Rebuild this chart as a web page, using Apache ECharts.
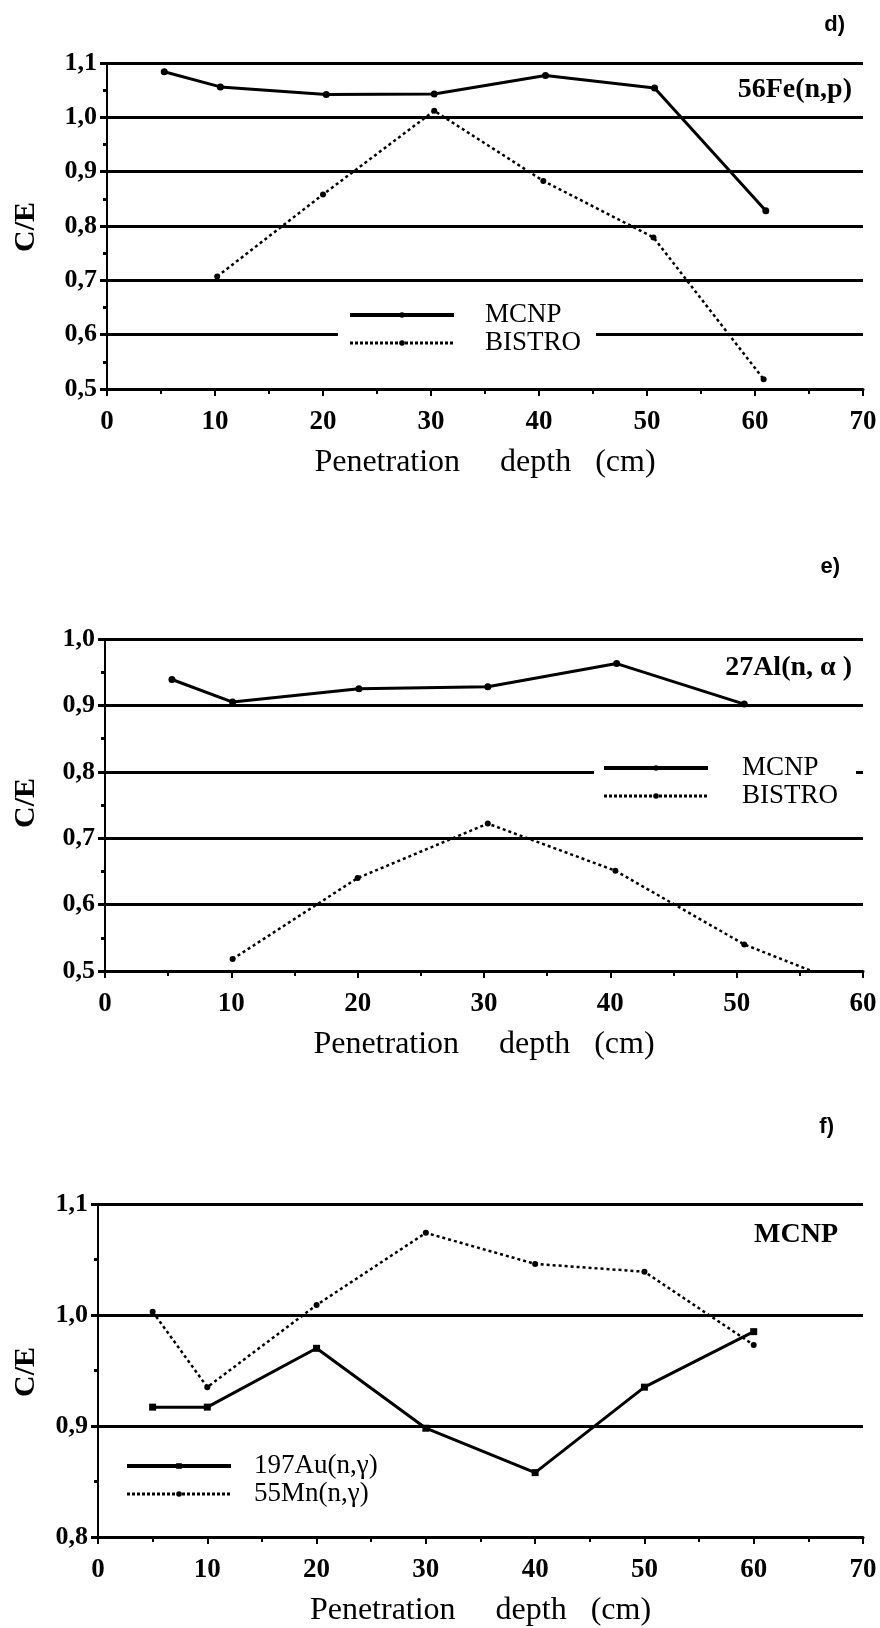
<!DOCTYPE html>
<html>
<head>
<meta charset="utf-8">
<script src="https://cdn.jsdelivr.net/npm/echarts@6/dist/echarts.min.js"></script>
<style>
html,body{margin:0;padding:0;background:#fff;}
#chart{width:880px;height:1628px;}
</style>
</head>
<body>
<div id="chart"></div>
<script>
// ---- Panel d) 56Fe(n,p) ----
const dDepthMCNP = [5.3, 10.5, 20.3, 30.3, 40.6, 50.7, 61.0];
const dMCNP = [1.084, 1.056, 1.042, 1.043, 1.077, 1.054, 0.828];
const dDepthBISTRO = [10.2, 20.0, 30.3, 40.4, 50.6, 60.8];
const dBISTRO = [0.707, 0.858, 1.012, 0.883, 0.779, 0.518];

// ---- Panel e) 27Al(n,α) ----
const eDepthMCNP = [5.3, 10.1, 20.1, 30.3, 40.5, 50.6];
const eMCNP = [0.939, 0.905, 0.925, 0.928, 0.963, 0.902];
const eDepthBISTRO = [10.1, 20.0, 30.3, 40.4, 50.6, 60.6];
const eBISTRO = [0.518, 0.640, 0.722, 0.651, 0.540, 0.465];

// ---- Panel f) MCNP ----
const fDepth = [5, 10, 20, 30, 40, 50, 60];
const fAu = [0.917, 0.917, 0.970, 0.898, 0.858, 0.935, 0.985];
const fMn = [1.003, 0.935, 1.009, 1.074, 1.046, 1.039, 0.973];

const panelLabels = ['d)', 'e)', 'f)'];
const reactionLabels = ['56Fe(n,p)', '27Al(n, α )', 'MCNP'];
const xTitle = 'Penetration     depth   (cm)';
const yTitle = 'C/E';

const pair = (xs, ys) => xs.map((x, i) => [x, ys[i]]);
const serif = 'Liberation Serif';

function xAxis(gi, max) {
  return {
    type: 'value', gridIndex: gi, min: 0, max: max, interval: 10,
    name: xTitle, nameLocation: 'middle', nameGap: 58,
    nameTextStyle: {fontFamily: serif, fontSize: 32, color: '#000'},
    axisLine: {show: true, onZero: false, lineStyle: {color: '#000', width: 3}},
    axisTick: {show: true, length: 7, lineStyle: {color: '#000', width: 2}},
    minorTick: {show: true, splitNumber: 2, length: 5, lineStyle: {color: '#000', width: 2}},
    axisLabel: {fontFamily: serif, fontWeight: 'bold', fontSize: 27, color: '#000', margin: 20},
    splitLine: {show: false}
  };
}
function yAxis(gi, min, max) {
  return {
    type: 'value', gridIndex: gi, min: min, max: max, interval: 0.1,
    axisLine: {show: true, lineStyle: {color: '#000', width: 2}},
    axisTick: {show: true, length: 7, lineStyle: {color: '#000', width: 3}},
    minorTick: {show: true, splitNumber: 2, length: 4, lineStyle: {color: '#000', width: 3}},
    axisLabel: {fontFamily: serif, fontWeight: 'bold', fontSize: 26, color: '#000', margin: 10,
      formatter: v => v.toFixed(1).replace('.', ',')},
    splitLine: {show: true, lineStyle: {color: '#000', width: 3}}
  };
}
function solid(name, gi, data, sym) {
  return {
    type: 'line', name: name, xAxisIndex: gi, yAxisIndex: gi, data: data,
    symbol: sym || 'circle', symbolSize: 7, clip: true,
    itemStyle: {color: '#000'},
    lineStyle: {color: '#000', width: 3, type: 'solid'},
    z: 5
  };
}
function dotted(name, gi, data) {
  return {
    type: 'line', name: name, xAxisIndex: gi, yAxisIndex: gi, data: data,
    symbol: 'circle', symbolSize: 6, clip: true,
    itemStyle: {color: '#000'},
    lineStyle: {color: '#000', width: 2.5, type: [3, 3]},
    z: 5
  };
}
function legend(names, left, top, textPad, pad, bg) {
  return {
    data: [
      {name: names[0], lineStyle: {width: 4, type: 'solid', color: '#000'}},
      {name: names[1], lineStyle: {width: 3, type: [3, 2], color: '#000'}}
    ],
    orient: 'vertical', left: left, top: top,
    itemWidth: 104, itemHeight: 7, itemGap: 0,
    backgroundColor: bg ? '#fff' : 'transparent',
    padding: pad, selectedMode: false, z: 10,
    textStyle: {fontFamily: serif, fontSize: 27, lineHeight: 28, color: '#000', padding: [0, 0, 0, textPad]}
  };
}
function txt(text, x, y, opts) {
  return {
    type: 'text', x: x, y: y, z: 20,
    style: Object.assign({text: text, fill: '#000', fontFamily: serif, fontWeight: 'bold', fontSize: 28,
      align: 'right', verticalAlign: 'middle'}, opts || {})
  };
}
function ytitle(x, y) {
  return {
    type: 'text', x: x, y: y, rotation: Math.PI / 2, z: 20,
    style: {text: yTitle, fill: '#000', fontFamily: serif, fontWeight: 'bold', fontSize: 30,
      align: 'center', verticalAlign: 'middle'}
  };
}

const chart = echarts.init(document.getElementById('chart'), null, {renderer: 'canvas'});
chart.setOption({
  backgroundColor: '#fff',
  animation: false,
  grid: [
    {left: 107, right: 17, top: 63, height: 326, outerBoundsMode: 'none'},
    {left: 105, right: 17, top: 639, height: 332, outerBoundsMode: 'none'},
    {left: 98, right: 17, top: 1204, height: 333, outerBoundsMode: 'none'}
  ],
  xAxis: [xAxis(0, 70), xAxis(1, 60), xAxis(2, 70)],
  yAxis: [yAxis(0, 0.5, 1.1), yAxis(1, 0.5, 1.0), yAxis(2, 0.8, 1.1)],
  legend: [
    legend(['MCNP', 'BISTRO'], 338, 298, 26, [3, 15, 3, 10], true),
    legend(['MCNP', 'BISTRO'], 594, 751, 29, [3, 18, 3, 8], true),
    legend(['197Au(n,γ)', '55Mn(n,γ)'], 115, 1449, 18, [3, 10, 3, 10], false)
  ],
  graphic: [
    txt(panelLabels[0], 845, 25, {fontFamily: 'Liberation Sans', fontSize: 22}),
    txt(panelLabels[1], 840, 567, {fontFamily: 'Liberation Sans', fontSize: 22}),
    txt(panelLabels[2], 834, 1127, {fontFamily: 'Liberation Sans', fontSize: 22}),
    txt(reactionLabels[0], 852, 90),
    txt(reactionLabels[1], 852, 668),
    txt(reactionLabels[2], 838, 1235),
    ytitle(26, 227),
    ytitle(26, 803),
    ytitle(26, 1372)
  ],
  series: [
    solid('MCNP', 0, pair(dDepthMCNP, dMCNP)),
    dotted('BISTRO', 0, pair(dDepthBISTRO, dBISTRO)),
    solid('MCNP', 1, pair(eDepthMCNP, eMCNP)),
    dotted('BISTRO', 1, pair(eDepthBISTRO, eBISTRO)),
    solid('197Au(n,γ)', 2, pair(fDepth, fAu), 'rect'),
    dotted('55Mn(n,γ)', 2, pair(fDepth, fMn))
  ]
});
</script>
</body>
</html>
